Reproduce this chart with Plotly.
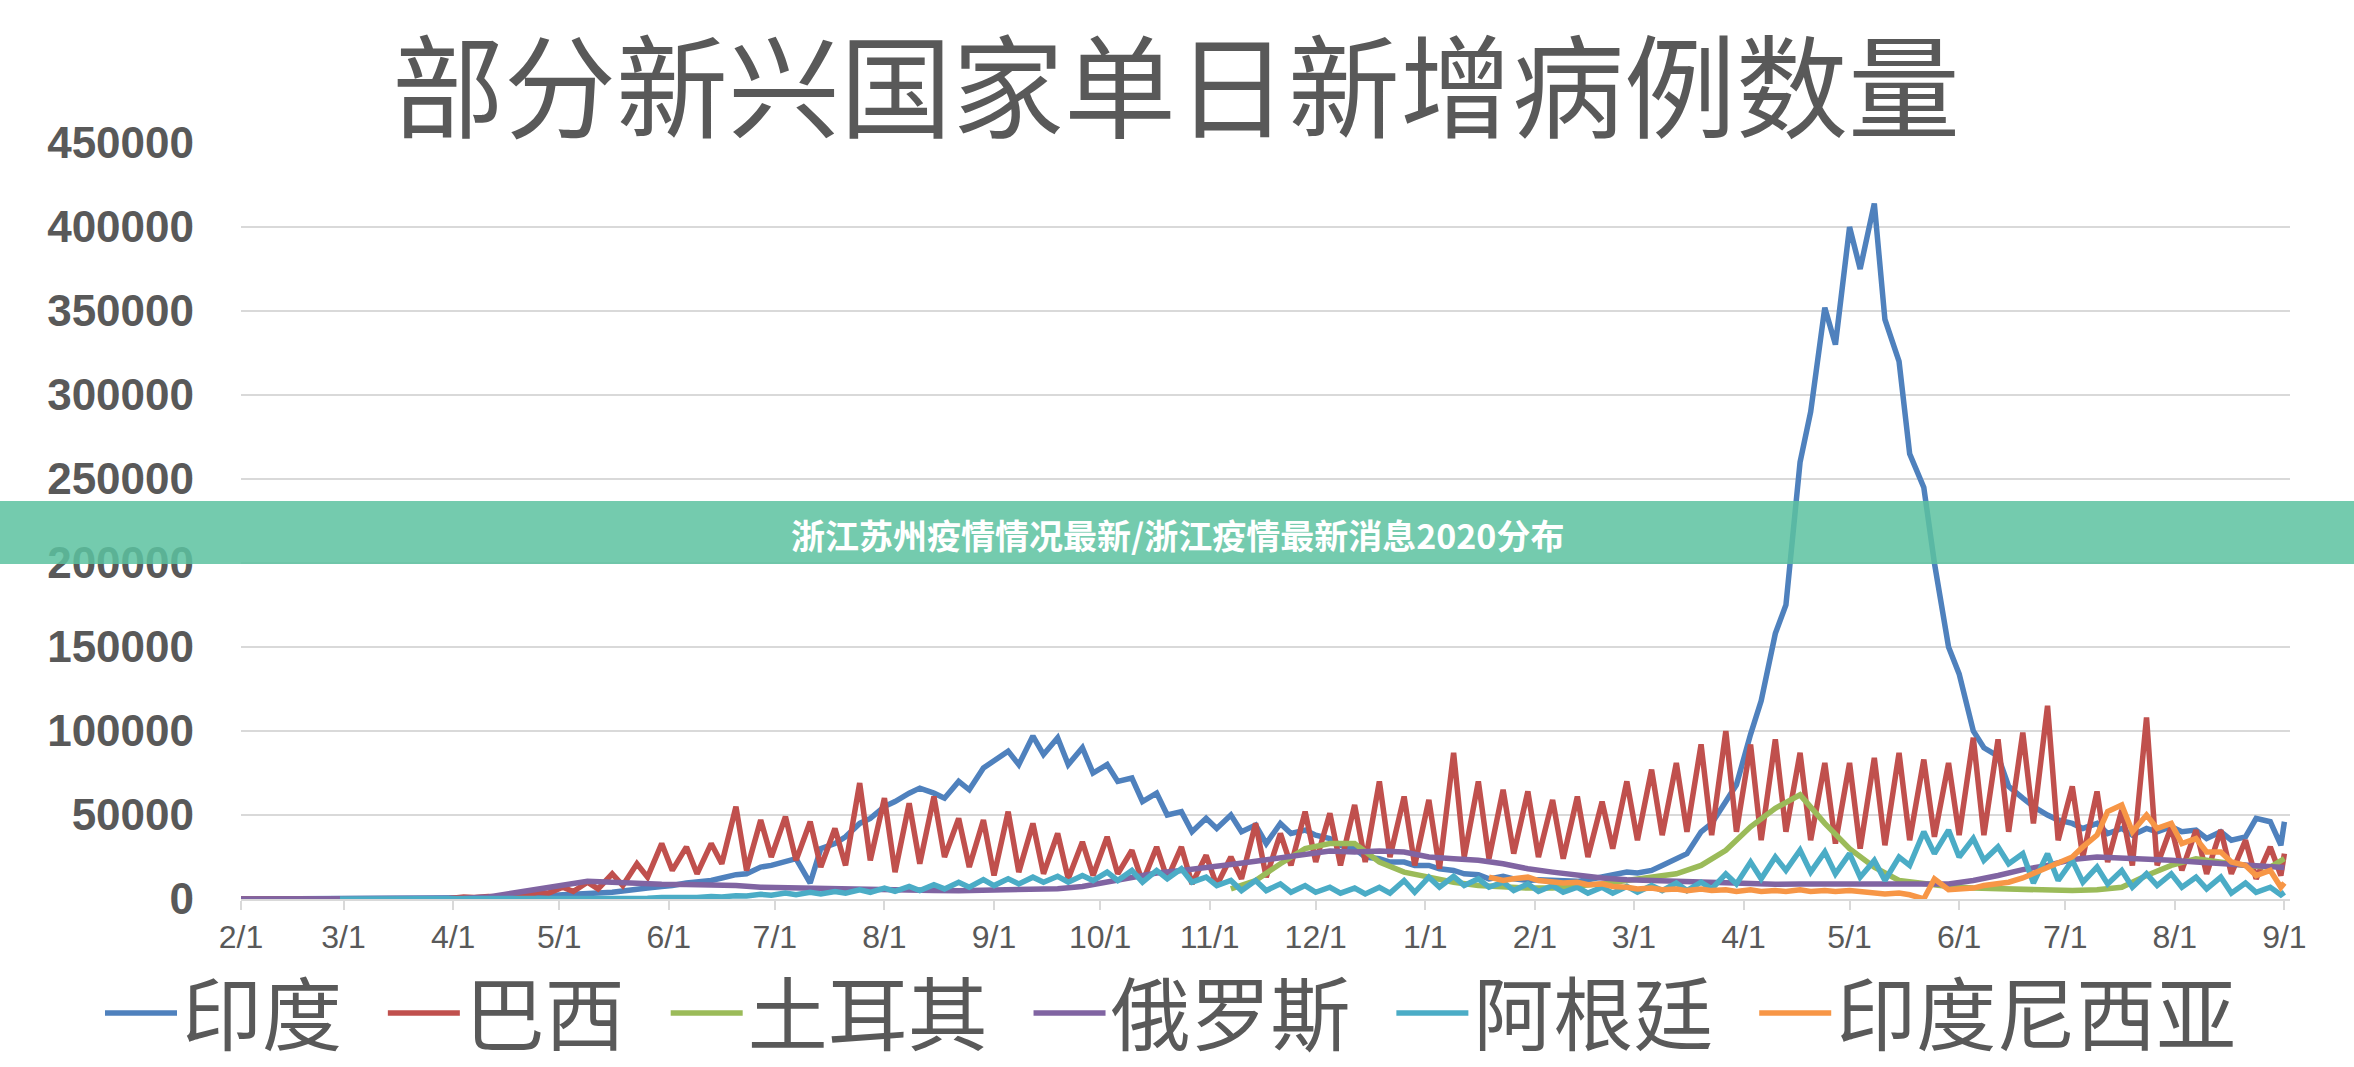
import datetime as dt
import plotly.graph_objects as go

# ---------------- data ----------------
start = dt.date(2020, 2, 1)
end = dt.date(2021, 9, 1)

# half-week sampling grid (two readings per week) and weekly grid
half_week_dates = [start + dt.timedelta(days=int(3.5 * k)) for k in range(166)] + [end]
week_dates = [start + dt.timedelta(days=7 * j) for j in range(83)] + [end]

series_names = ["印度", "巴西", "土耳其", "俄罗斯", "阿根廷", "印度尼西亚"]

india = [
    0, 0, 0, 0, 0, 0, 0, 0, 0, 0,
    0, 50, 80, 100, 150, 300, 400, 500, 600, 800,
    900, 1000, 1200, 1500, 1700, 1900, 2500, 3000, 3500, 3600,
    4000, 5000, 6000, 6600, 7500, 8000, 9500, 10000, 11000, 12500,
    14500, 15000, 19000, 20000, 22000, 24000, 9500, 30000, 33000, 37000,
    45000, 48000, 55000, 58000, 63000, 66000, 63000, 60000, 70000, 65000,
    78000, 82000, 88000, 80000, 97000, 86000, 96000, 80000, 90000, 75000,
    80000, 70000, 72000, 58000, 63000, 50000, 52000, 40000, 48000, 42000,
    50000, 40000, 44000, 33000, 45000, 39000, 41000, 38000, 36000, 32000,
    30000, 25000, 24000, 22000, 22000, 20000, 20000, 18000, 17000, 15000,
    14500, 12000, 13500, 12000, 11000, 11500, 11000, 11000, 10500, 11500,
    13000, 14000, 16000, 15500, 17000, 20000, 24000, 27000, 40000, 45000,
    58000, 68000, 98000, 118000, 158000, 175000, 260000, 290000, 352000, 330000,
    400000, 375000, 414000, 345000, 320000, 265000, 245000, 200000, 150000, 134000,
    100000, 90000, 85000, 67000, 60000, 55000, 50000, 47000, 45000, 42000,
    45000, 39000, 42000, 38000, 42000, 40000, 43000, 40000, 41000, 36000,
    40000, 35000, 37000, 48000, 46000, 32000,
    46000,
]

brazil = [
    0, 0, 0, 0, 0, 0, 0, 0, 0, 0,
    0, 0, 50, 100, 400, 300, 500, 300, 1200, 900,
    1500, 1200, 3000, 2000, 4000, 3500, 7000, 4500, 10000, 6000,
    15000, 8000, 21000, 13000, 33000, 17000, 31000, 15000, 33000, 21000,
    55000, 17000, 47000, 25000, 49000, 23000, 46000, 19000, 42000, 20000,
    69000, 23000, 60000, 16000, 57000, 21000, 61000, 25000, 48000, 19000,
    47000, 14000, 52000, 16000, 45000, 15000, 39000, 12000, 34000, 14000,
    37000, 15000, 29000, 10000, 31000, 12000, 31000, 9000, 26000, 8000,
    25000, 12000, 45000, 13000, 39000, 20000, 52000, 22000, 51000, 20000,
    56000, 22000, 70000, 25000, 61000, 20000, 59000, 18000, 87000, 25000,
    70000, 24000, 65000, 27000, 64000, 25000, 59000, 24000, 61000, 25000,
    58000, 30000, 70000, 35000, 77000, 38000, 81000, 40000, 92000, 38000,
    100000, 40000, 92000, 35000, 95000, 40000, 87000, 35000, 81000, 33000,
    81000, 30000, 84000, 32000, 87000, 35000, 83000, 37000, 81000, 38000,
    96000, 38000, 95000, 40000, 99000, 45000, 115000, 35000, 67000, 25000,
    64000, 22000, 53000, 20000, 108000, 20000, 43000, 17000, 41000, 15000,
    41000, 15000, 35000, 12000, 31000, 14000,
    27000,
]

# Argentina starts at the 9th half-week reading (early March 2020)
argentina_start = 8
argentina = [
    0, 0,
    10, 30, 50, 80, 100, 80, 120, 100, 150, 100,
    150, 120, 150, 130, 170, 150, 200, 180, 250, 200,
    350, 300, 600, 500, 900, 700, 1100, 900, 1500, 1200,
    2000, 1800, 2800, 2200, 3500, 2600, 4000, 3000, 4500, 3500,
    5500, 4000, 6500, 4500, 7500, 5000, 8500, 6000, 10000, 7000,
    11500, 8000, 12000, 9000, 13000, 10000, 13500, 10000, 14000, 11000,
    16000, 11000, 17000, 10000, 17000, 12000, 18000, 10000, 13000, 8000,
    11000, 5000, 11000, 5000, 9000, 4000, 8000, 4000, 7000, 3500,
    6500, 3000, 7000, 3500, 11000, 4000, 13000, 7000, 13500, 8000,
    12000, 7000, 10000, 5000, 9000, 4500, 8000, 4000, 7000, 3500,
    7000, 3500, 7500, 4000, 8000, 5000, 9500, 5000, 10000, 6000,
    15000, 9000, 22000, 12000, 25000, 17000, 29000, 16000, 28000, 15000,
    27000, 13000, 23000, 11000, 25000, 20000, 40000, 27000, 41000, 25000,
    36000, 23000, 31000, 21000, 27000, 9500, 27000, 11000, 23000, 10000,
    19000, 9000, 17000, 7000, 15000, 8000, 15000, 7000, 13000, 6000,
    13000, 3500, 9500, 4000, 7000, 2500,
    4000,
]

# Indonesia starts in late January 2021
indonesia_start = 101
indonesia = [
    13000, 11000, 12000, 13000, 11000, 10500, 9500, 10000, 8500,
    9000, 7500, 7000, 6000, 6500, 5500, 6000, 5000, 6000, 5000,
    5500, 4500, 5500, 4500, 5000, 4500, 5500, 4500, 5000, 4500,
    5000, 4500, 4000, 3000, 3500, 2500, 0, 12000, 5500, 6000,
    6500, 8000, 9000, 10000, 12500, 15000, 19000, 21000, 25000, 31000,
    38000, 52000, 56000, 40000, 50000, 42000, 45000, 33000, 36000, 28000,
    28000, 22000, 20000, 14000, 17000, 7000,
    9500,
]

russia = [
    0, 0, 0, 0, 0, 0, 10, 50, 200, 500,
    1200, 3500, 5500, 7500, 10500, 10000, 9000, 8800, 8700, 8500,
    8000, 7000, 6600, 6500, 6000, 5700, 5400, 5200, 5000, 4900,
    5100, 5300, 5700, 6100, 7500, 10000, 13000, 15500, 17000, 18500,
    20500, 22500, 24500, 27000, 28500, 28000, 28500, 28000, 25000, 24000,
    23000, 21000, 18000, 16000, 14000, 12500, 11500, 11000, 10000, 9500,
    9000, 8700, 8800, 8900, 8800, 8500, 8600, 8800, 8900, 9000,
    11000, 14000, 17500, 20000, 23500, 25000, 24500, 23500, 23000, 22000,
    21000, 20500, 19000,
    18800,
]

# Turkey starts in November 2020 (41st weekly reading)
turkey_start = 40
turkey = [
    6000, 11000, 21000, 30000, 33000, 33000, 22000, 16000, 13000, 10000,
    8000, 7000, 6500, 6500, 7500, 9000, 11000, 13000, 15000, 20000,
    29000, 43000, 54000, 62000, 45000, 30000, 19000, 11000, 9000, 7500,
    6500, 6000, 5500, 5000, 5000, 5500, 7000, 14000, 20000, 24000,
    22000, 20000, 19000,
    24000,
]

series_x = [
    half_week_dates,
    half_week_dates,
    week_dates[turkey_start:],
    week_dates,
    half_week_dates[argentina_start:],
    half_week_dates[indonesia_start:],
]
series_y = [india, brazil, turkey, russia, argentina, indonesia]
series_colors = ["#4F81BD", "#C0504D", "#9BBB59", "#8064A2", "#4BACC6", "#F79646"]

y_ticks = [0, 50000, 100000, 150000, 200000, 250000, 300000, 350000, 400000, 450000]

title_text = "部分新兴国家单日新增病例数量"
banner_text = "浙江苏州疫情情况最新/浙江疫情最新消息2020分布"

# ---------------- figure ----------------
W, H = 2354, 1067
L, R, T, B = 241, 64, 143, 168
plot_w = W - L - R
plot_h = H - T - B

fig = go.Figure()
n = len(series_names)
for i, (name, xs, ys, col) in enumerate(zip(series_names, series_x, series_y, series_colors)):
    label = name + ("\u00a0\u00a0" if i < n - 1 else "")
    fig.add_trace(go.Scatter(
        x=xs, y=ys, name=label, mode="lines",
        line=dict(color=col, width=5.5),
    ))

cjk = "Noto Sans CJK SC, Noto Sans, sans-serif"

fig.update_layout(
    width=W, height=H,
    margin=dict(l=L, r=R, t=T, b=B, pad=0, autoexpand=False),
    paper_bgcolor="white", plot_bgcolor="white",
    title=dict(
        text=title_text, x=1176 / W, xanchor="center",
        y=1 - 91 / H, yanchor="middle",
        font=dict(size=112, color="#595959", family=cjk),
    ),
    legend=dict(
        orientation="h", x=(100 - L) / plot_w, xanchor="left",
        y=-(1013 - (H - B)) / plot_h, yanchor="middle",
        font=dict(size=80, color="#595959", family=cjk),
        itemwidth=72, bgcolor="rgba(0,0,0,0)",
    ),
    xaxis=dict(
        type="date",
        range=["2020-02-01", "2021-09-02 14:00"],
        tickformat="%-m/%-d", dtick="M1", tick0="2020-02-01",
        ticks="outside", ticklen=9, tickwidth=2, tickcolor="#d9d9d9",
        showline=True, linecolor="#d9d9d9", linewidth=2,
        showgrid=False, zeroline=False,
        tickfont=dict(size=32, color="#595959", family="Liberation Sans, Arial, sans-serif"),
    ),
    yaxis=dict(
        range=[0, 450000], tickvals=y_ticks, tickformat="d",
        showgrid=True, gridcolor="#d9d9d9", gridwidth=2,
        zeroline=False, showline=False, ticks="",
        ticklabelstandoff=46,
        tickfont=dict(size=44, color="#595959", family="Liberation Sans, Arial, sans-serif", weight="bold"),
    ),
    showlegend=True,
)

# overlay banner across the page
fig.add_shape(
    type="rect", xref="paper", yref="paper",
    x0=-L / plot_w, x1=(W - L) / plot_w,
    y0=((H - B) - 564) / plot_h, y1=((H - B) - 501) / plot_h,
    fillcolor="rgba(92,194,160,0.85)", line=dict(width=0), layer="above",
)
fig.add_annotation(
    text=banner_text, xref="paper", yref="paper",
    x=(1177 - L) / plot_w, y=((H - B) - 534) / plot_h,
    xanchor="center", yanchor="middle", showarrow=False,
    font=dict(size=34, color="white", family=cjk, weight="bold"),
)

fig.write_html("out.html")
